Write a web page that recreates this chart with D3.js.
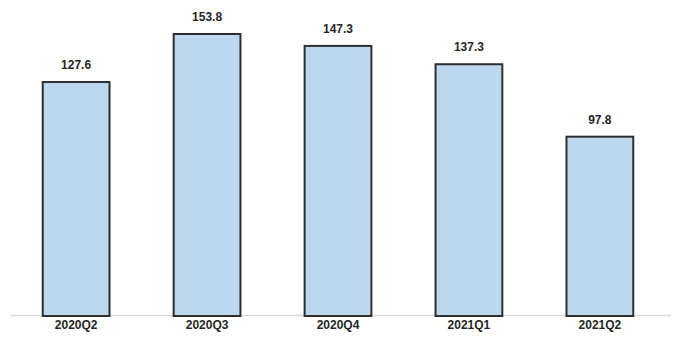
<!DOCTYPE html>
<html><head><meta charset="utf-8">
<script src="https://cdn.jsdelivr.net/npm/d3@7"></script>
<style>body{margin:0;background:#fff}</style>
</head><body>
<svg id="c" width="683" height="351"></svg>
<script>
const categories = ["2020Q2","2020Q3","2020Q4","2021Q1","2021Q2"];
const values = [127.6,153.8,147.3,137.3,97.8];

const svg = d3.select("#c");
const x = d3.scaleBand().domain(categories).range([10,666]).paddingInner(0.49).paddingOuter(0.25);
const y = d3.scaleLinear().domain([0,153.8]).range([316,34]);

svg.append("line").attr("x1",10).attr("x2",671).attr("y1",315.5).attr("y2",315.5)
  .attr("stroke","#d9d9d9").attr("stroke-width",1.5);

svg.selectAll("rect.bar").data(values).join("rect").attr("class","bar")
  .attr("x",(d,i)=>x(categories[i]))
  .attr("width",x.bandwidth())
  .attr("y",d=>y(d))
  .attr("height",d=>y(0)-y(d))
  .attr("fill","#bdd7ee").attr("stroke","#2e2e2e").attr("stroke-width",2);

svg.selectAll("text.val").data(values).join("text").attr("class","val")
  .attr("x",(d,i)=>x(categories[i])+x.bandwidth()/2)
  .attr("y",d=>y(d)-13)
  .attr("text-anchor","middle")
  .attr("font-family","Liberation Sans, Arial, sans-serif")
  .attr("font-weight","bold").attr("font-size",12).attr("fill","#262626")
  .text(d=>d.toFixed(1));

const xAxis = d3.axisBottom(x).tickSize(0).tickPadding(0);
const g = svg.append("g").attr("transform","translate(0,320)").call(xAxis);
g.select(".domain").remove();
g.selectAll("text").attr("dy","0.71em")
  .attr("font-family","Liberation Sans, Arial, sans-serif")
  .attr("font-weight","bold").attr("font-size",12).attr("fill","#262626");
</script>
</body></html>
